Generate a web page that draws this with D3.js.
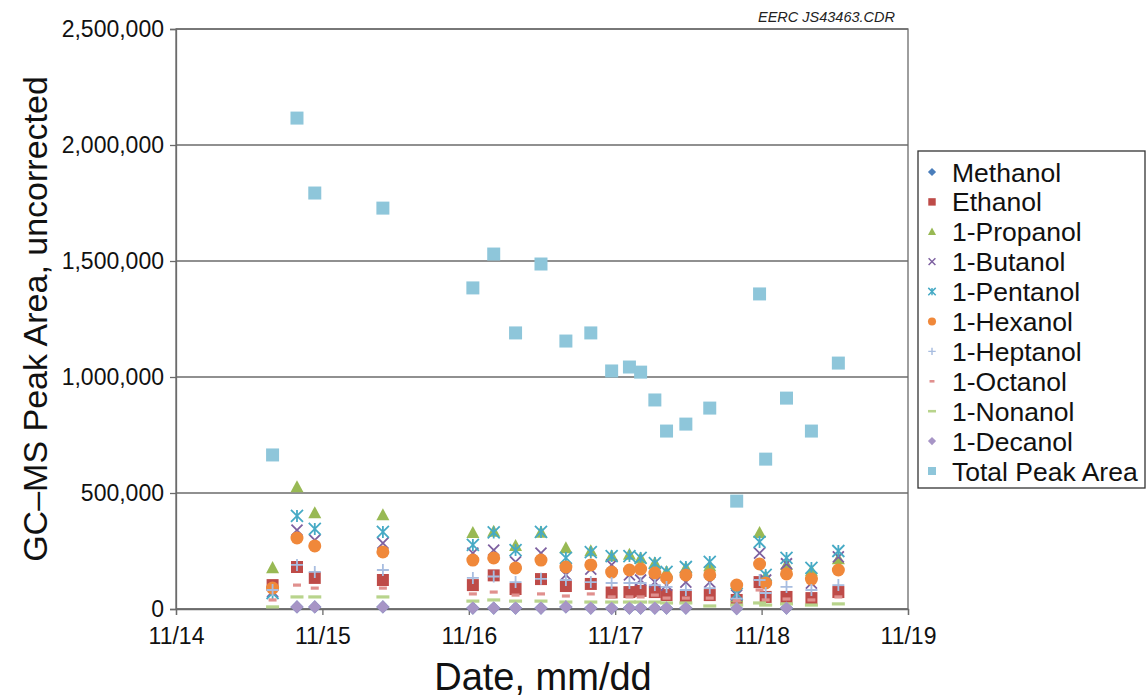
<!DOCTYPE html>
<html>
<head>
<meta charset="utf-8">
<script src="https://cdn.jsdelivr.net/npm/d3@7"></script>
<style>
  html, body { margin: 0; padding: 0; background: #fff; }
  svg { display: block; font-family: "Liberation Sans", Arial, sans-serif; }
</style>
</head>
<body>
<svg id="chart" width="1148" height="697"></svg>
<script>
// Sampling times (month/day hour:minute)
const sampleTimes = [
  "11/14 15:50", "11/14 19:50", "11/14 22:45", "11/15 09:55",
  "11/16 00:40", "11/16 04:05", "11/16 07:40", "11/16 11:50",
  "11/16 15:55", "11/16 20:00", "11/16 23:25", "11/17 02:20",
  "11/17 04:10", "11/17 06:30", "11/17 08:25", "11/17 11:35",
  "11/17 15:30", "11/17 19:55", "11/17 23:40", "11/18 00:40",
  "11/18 04:05", "11/18 08:10", "11/18 12:35"
];

// GC-MS peak areas per compound (uncorrected)
const methanol  = [null, 9000, 9000, 9000, 4000, 4000, 4000, 4000, 9000, 4000, 3000, 4000, 4000, 4000, 4000, 4000, null, 2000, null, null, 4000, null, null];
const ethanol   = [103000, 181000, 134000, 125000, 103000, 145000, 86000, 129000, 99000, 108000, 71000, 73000, 78000, 73000, 60000, 52000, 60000, 39000, 116000, 52000, 52000, 47000, 73000];
const propanol  = [177000, 526000, 414000, 405000, 328000, 334000, 272000, 330000, 263000, 250000, 228000, 235000, 218000, 198000, 160000, 177000, 185000, 52000, 328000, 140000, 190000, 164000, 215000];
const butanol   = [75000, 340000, 297000, 284000, 241000, 254000, 203000, 241000, 147000, 172000, 190000, 147000, 125000, 116000, 103000, 116000, 116000, 60000, 241000, 125000, 195000, 112000, 225000];
const pentanol  = [69000, 401000, 345000, 332000, 276000, 330000, 254000, 332000, 220000, 245000, 228000, 228000, 220000, 198000, 160000, 181000, 203000, 65000, 289000, 147000, 220000, 177000, 250000];
const hexanol   = [90000, 306000, 272000, 246000, 211000, 220000, 177000, 211000, 181000, 190000, 159000, 168000, 172000, 155000, 134000, 147000, 147000, 103000, 194000, 112000, 151000, 129000, 168000];
const heptanol  = [82000, 190000, 160000, 168000, 134000, 140000, 116000, 130000, 125000, 116000, 112000, 112000, 112000, 103000, 95000, 82000, 90000, 45000, 125000, 69000, 95000, 82000, 103000];
const octanol   = [39000, 103000, 90000, 90000, 65000, 73000, 60000, 65000, 56000, 65000, 52000, 52000, 52000, 60000, 47000, 47000, 47000, 35000, 82000, 39000, 43000, 39000, 52000];
const nonanol   = [9000, 52000, 52000, 52000, 34000, 39000, 34000, 34000, 30000, 30000, 30000, 30000, 30000, 30000, 26000, 26000, 13000, 17000, 26000, 17000, 22000, 17000, 22000];
const decanol   = [null, 9000, 9000, 9000, 4000, 4000, 4000, 4000, 9000, 4000, 3000, 4000, 4000, 4000, 4000, 4000, null, 2000, null, null, 4000, null, null];
const totalArea = [664000, 2116000, 1793000, 1728000, 1384000, 1530000, 1190000, 1487000, 1155000, 1190000, 1026000, 1043000, 1021000, 901000, 767000, 797000, 866000, 465000, 1358000, 646000, 909000, 767000, 1060000];

const yTicks = [0, 500000, 1000000, 1500000, 2000000, 2500000];
const xTickDates = ["11/14", "11/15", "11/16", "11/17", "11/18", "11/19"];

const seriesNames = ["Methanol", "Ethanol", "1-Propanol", "1-Butanol", "1-Pentanol", "1-Hexanol",
                     "1-Heptanol", "1-Octanol", "1-Nonanol", "1-Decanol", "Total Peak Area"];
const seriesValues = [methanol, ethanol, propanol, butanol, pentanol, hexanol,
                      heptanol, octanol, nonanol, decanol, totalArea];

// Marker styling per series
const styles = [
  { shape: "diamond",  color: "#4a7ebb", size: 12 },
  { shape: "square",   color: "#be4b48", size: 12 },
  { shape: "triangle", color: "#98b954", size: 13 },
  { shape: "x",        color: "#7d60a0", size: 11 },
  { shape: "asterisk", color: "#46aac5", size: 12 },
  { shape: "circle",   color: "#f0883a", size: 13 },
  { shape: "plus",     color: "#a8bde0", size: 12 },
  { shape: "dash",     color: "#e0908e", size: 8 },
  { shape: "longdash", color: "#b8d48c", size: 13 },
  { shape: "diamond",  color: "#a795c6", size: 12 },
  { shape: "square",   color: "#8ec6da", size: 13 }
];

const parseTime = d3.timeParse("%Y/%m/%d %H:%M");
const parseDay = d3.timeParse("%Y/%m/%d");
const times = sampleTimes.map(t => parseTime("2010/" + t));

const svg = d3.select("#chart");
const margin = { left: 176, right: 908, top: 29, bottom: 609 };

const x = d3.scaleTime()
  .domain([parseDay("2010/11/14"), parseDay("2010/11/19")])
  .range([margin.left, margin.right]);
const y = d3.scaleLinear()
  .domain([0, 2500000])
  .range([margin.bottom, margin.top]);

const lineColor = "#6b6b6b";
const font = "'Liberation Sans', Arial, sans-serif";

// Horizontal gridlines
svg.append("g")
  .selectAll("line")
  .data(yTicks)
  .join("line")
  .attr("x1", margin.left).attr("x2", margin.right)
  .attr("y1", d => y(d)).attr("y2", d => y(d))
  .attr("stroke", lineColor).attr("stroke-width", 1.3);

// Plot frame
svg.append("rect")
  .attr("x", margin.left).attr("y", margin.top)
  .attr("width", margin.right - margin.left)
  .attr("height", margin.bottom - margin.top)
  .attr("fill", "none").attr("stroke", lineColor).attr("stroke-width", 1.3);

// Y axis
const yAxis = svg.append("g")
  .attr("transform", `translate(${margin.left},0)`)
  .call(d3.axisLeft(y).tickValues(yTicks).tickFormat(d3.format(",")).tickSize(6).tickPadding(6));
yAxis.select(".domain").attr("stroke", lineColor).attr("stroke-width", 1.3);
yAxis.selectAll(".tick line").attr("stroke", lineColor).attr("stroke-width", 1.3);
yAxis.selectAll(".tick text").attr("font-size", 23).attr("fill", "#111").attr("font-family", font);

// X axis
const xAxis = svg.append("g")
  .attr("transform", `translate(0,${margin.bottom})`)
  .call(d3.axisBottom(x)
    .tickValues(xTickDates.map(d => parseDay("2010/" + d)))
    .tickFormat(d3.timeFormat("%m/%d")).tickSize(6).tickPadding(13));
xAxis.select(".domain").attr("stroke", lineColor).attr("stroke-width", 1.3);
xAxis.selectAll(".tick line").attr("stroke", lineColor).attr("stroke-width", 1.3);
xAxis.selectAll(".tick text").attr("font-size", 23).attr("fill", "#111").attr("font-family", font);

// Axis titles
svg.append("text")
  .attr("x", 543).attr("y", 690)
  .attr("text-anchor", "middle").attr("font-size", 38).attr("fill", "#111")
  .text("Date, mm/dd");
svg.append("text")
  .attr("transform", `translate(47,${(margin.top + margin.bottom) / 2}) rotate(-90)`)
  .attr("text-anchor", "middle").attr("font-size", 34).attr("fill", "#111")
  .text("GC\u2013MS Peak Area, uncorrected");

// Drawing file reference
svg.append("text")
  .attr("x", 895).attr("y", 22)
  .attr("text-anchor", "end").attr("font-size", 14.5).attr("font-style", "italic").attr("fill", "#222")
  .text("EERC JS43463.CDR");

// Marker path generator (centered at origin)
function markerPath(shape, s) {
  const h = s / 2;
  switch (shape) {
    case "square":   return `M${-h},${-h}H${h}V${h}H${-h}Z`;
    case "diamond":  return `M0,${-h * 1.1}L${h * 1.1},0L0,${h * 1.1}L${-h * 1.1},0Z`;
    case "triangle": return `M0,${-h * 1.05}L${h},${h * 0.8}L${-h},${h * 0.8}Z`;
    case "circle":   return d3.symbol(d3.symbolCircle, Math.PI * h * h)();
    case "x":        return `M${-h},${-h}L${h},${h}M${h},${-h}L${-h},${h}`;
    case "asterisk": return `M${-h},${-h}L${h},${h}M${h},${-h}L${-h},${h}M0,${-h}V${h}`;
    case "plus":     return `M${-h},0H${h}M0,${-h}V${h}`;
    case "dash":     return `M${-h},0H${h}`;
    case "longdash": return `M${-h},0H${h}`;
  }
}
const stroked = new Set(["x", "asterisk", "plus", "dash", "longdash"]);
function applyStyle(sel, st, scale) {
  if (stroked.has(st.shape)) {
    const w = st.shape === "dash" || st.shape === "longdash" ? 3.2 : 1.8;
    sel.attr("fill", "none").attr("stroke", st.color).attr("stroke-width", w * scale);
  } else {
    sel.attr("fill", st.color).attr("stroke", "none");
  }
}

// Scatter points, one layer per series, drawn in legend order
seriesValues.forEach((vals, i) => {
  const st = styles[i];
  const pts = vals.map((v, j) => ({ t: times[j], v })).filter(d => d.v != null);
  const g = svg.append("g").attr("class", "series");
  const paths = g.selectAll("path").data(pts).join("path")
    .attr("transform", d => `translate(${x(d.t)},${y(d.v)})`)
    .attr("d", markerPath(st.shape, st.size));
  applyStyle(paths, st, 1);
});

// Legend
const legend = svg.append("g");
legend.append("rect")
  .attr("x", 918).attr("y", 151).attr("width", 227).attr("height", 337)
  .attr("fill", "#fff").attr("stroke", "#333").attr("stroke-width", 1.3);
seriesNames.forEach((name, i) => {
  const st = styles[i];
  const cy = 172 + i * 29.9;
  const p = legend.append("path")
    .attr("transform", `translate(932,${cy})`)
    .attr("d", markerPath(st.shape, st.size * 0.62));
  applyStyle(p, st, 0.8);
  legend.append("text")
    .attr("x", 952).attr("y", cy).attr("dy", "0.36em")
    .attr("font-size", 26.5).attr("fill", "#111")
    .text(name);
});
</script>
</body>
</html>
